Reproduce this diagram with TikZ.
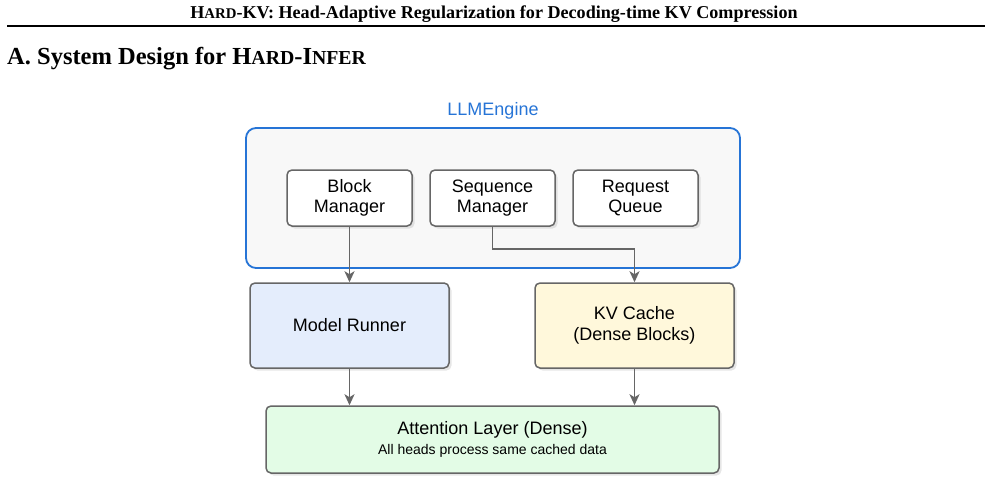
\documentclass[tikz,border=0pt]{standalone}
\usepackage{fontspec}
\setmainfont{Liberation Serif}
\newfontfamily\diagfont{Liberation Sans}
\usetikzlibrary{arrows.meta,shadows,calc}
\definecolor{engineblue}{HTML}{2674D6}
\definecolor{enginefill}{HTML}{F8F8F8}
\definecolor{boxgray}{HTML}{666666}
\definecolor{runnerfill}{HTML}{E4EDFC}
\definecolor{cachefill}{HTML}{FFF8DB}
\definecolor{attnfill}{HTML}{E3FCE6}
\newcommand{\fakesc}[1]{{\fontsize{14.8}{15}\selectfont #1}}
\newcommand{\fakescbig}[1]{{\fontsize{19.8}{20}\selectfont #1}}
\tikzset{
  part/.style={draw=boxgray, line width=1.5pt, rounded corners=5pt, fill=white,
    align=center, font=\diagfont\fontsize{18}{20.5}\selectfont,
    drop shadow={shadow xshift=2.5pt, shadow yshift=-2.5pt, opacity=0.2}},
  arr/.style={-{Stealth[length=11pt,width=10pt,inset=3pt]}, draw=boxgray, line width=1.8pt},
}
\begin{document}
\begin{tikzpicture}[x=1pt,y=-1pt]
  \useasboundingbox (0,0) rectangle (985,484);
  % page header
  \node[anchor=base] (hdr) at (494,18.5) {\fontsize{18.1}{18}\selectfont\bfseries H\fakesc{ARD}-KV: Head-Adaptive Regularization for Decoding-time KV Compression};
  \draw[line width=2.2pt] (7,26) -- (985,26);
  \node[anchor=base west, inner sep=0pt] (sec) at (7,65) {\fontsize{24.5}{26}\selectfont\bfseries A. System Design for H\fakescbig{ARD}-I\fakescbig{NFER}};
  % engine
  \node[draw=engineblue, fill=enginefill, line width=1.8pt, rounded corners=10pt,
    minimum width=494pt, minimum height=140pt] (engine) at (493,198) {};
  \node[text=engineblue, font=\diagfont\fontsize{18}{20}\selectfont] (enginelbl) at (493,111) {LLMEngine};
  \node[part, minimum width=125pt, minimum height=56pt] (bm) at (349.5,198) {Block\\Manager};
  \node[part, minimum width=125pt, minimum height=56pt] (sm) at (492.5,198) {Sequence\\Manager};
  \node[part, minimum width=125pt, minimum height=56pt] (rq) at (635.5,198) {Request\\Queue};
  % middle row
  \node[part, fill=runnerfill, minimum width=199pt, minimum height=85pt] (mr) at (349.5,325.5) {Model Runner};
  \node[part, fill=cachefill, minimum width=199pt, minimum height=85pt] (kv) at (634.5,325.5) {KV Cache\\(Dense Blocks)};
  % attention
  \node[part, fill=attnfill, minimum width=453pt, minimum height=67pt] (attn) at (492.5,439.5)
    {Attention Layer (Dense)\\[-1pt]{\fontsize{14}{16}\selectfont All heads process same cached data}};
  % arrows
  \coordinate (bend) at (kv.north |- 0,249);
  \draw[arr] (bm.south) -- (mr.north);
  \draw[arr] (sm.south) |- (bend) -- (kv.north);
  \draw[arr] (mr.south) -- (mr.south |- attn.north);
  \draw[arr] (kv.south) -- (kv.south |- attn.north);
\end{tikzpicture}
\end{document}
